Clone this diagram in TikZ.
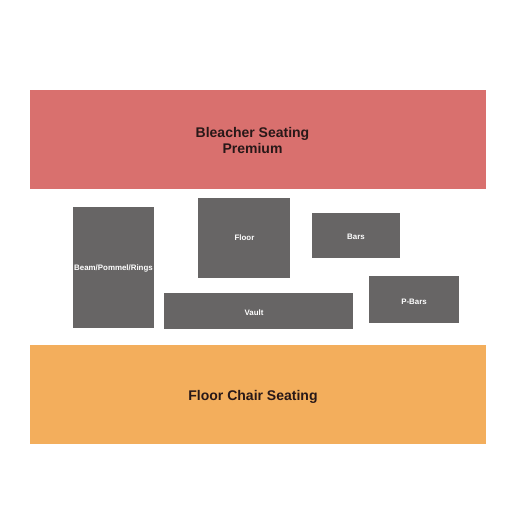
\documentclass[tikz,border=0pt]{standalone}
\usepackage{fontspec}
\setmainfont{Liberation Sans}
\usetikzlibrary{positioning}

\definecolor{bleacherred}{RGB}{217,112,110}
\definecolor{chairorange}{RGB}{243,174,92}
\definecolor{apparatus}{RGB}{103,101,101}
\definecolor{labeldark}{RGB}{40,24,24}

\begin{document}
\begin{tikzpicture}[x=1pt, y=-1pt,
  section/.style={inner sep=0pt},
  sectext/.style={inner sep=0pt, align=center, text=labeldark,
    font=\fontsize{14}{16.5}\selectfont\bfseries},
  event/.style={fill=apparatus, inner sep=0pt},
  eventtext/.style={inner sep=0pt, text=white,
    font=\fontsize{7.9}{9}\selectfont\bfseries}]

  \useasboundingbox[fill=white] (0,0) rectangle (525,525);

  % Seating areas
  \node[section, fill=bleacherred, minimum width=456pt, minimum height=99pt] (bleacher) at (258,139.5) {};
  \node[sectext] (bleachertext) at ([xshift=-5.5pt, yshift=-1pt]bleacher.center) {Bleacher Seating\\Premium};
  \node[section, fill=chairorange, minimum width=456pt, minimum height=99pt] (chairs) at (258,394.5) {};
  \node[sectext] (chairstext) at ([xshift=-5pt, yshift=-2pt]chairs.center) {Floor Chair Seating};

  % Apparatus
  \node[event, minimum width=81pt, minimum height=121pt] (beam) at (113.5,267.5) {};
  \node[eventtext] at ([yshift=-0.5pt]beam.center) {Beam/Pommel/Rings};
  \node[event, minimum width=92pt, minimum height=80pt] (floor) at (244,238) {};
  \node[eventtext] at ([xshift=0.5pt, yshift=0pt]floor.center) {Floor};
  \node[event, minimum width=88pt, minimum height=45pt] (bars) at (356,235.5) {};
  \node[eventtext] at ([yshift=-1pt]bars.center) {Bars};
  \node[event, minimum width=189pt, minimum height=36pt] (vault) at (258.5,311) {};
  \node[eventtext] at ([xshift=-4.5pt, yshift=-2pt]vault.center) {Vault};
  \node[event, minimum width=90pt, minimum height=47pt] (pbars) at (414,299.5) {};
  \node[eventtext] at ([yshift=-2.5pt]pbars.center) {P-Bars};
\end{tikzpicture}
\end{document}
